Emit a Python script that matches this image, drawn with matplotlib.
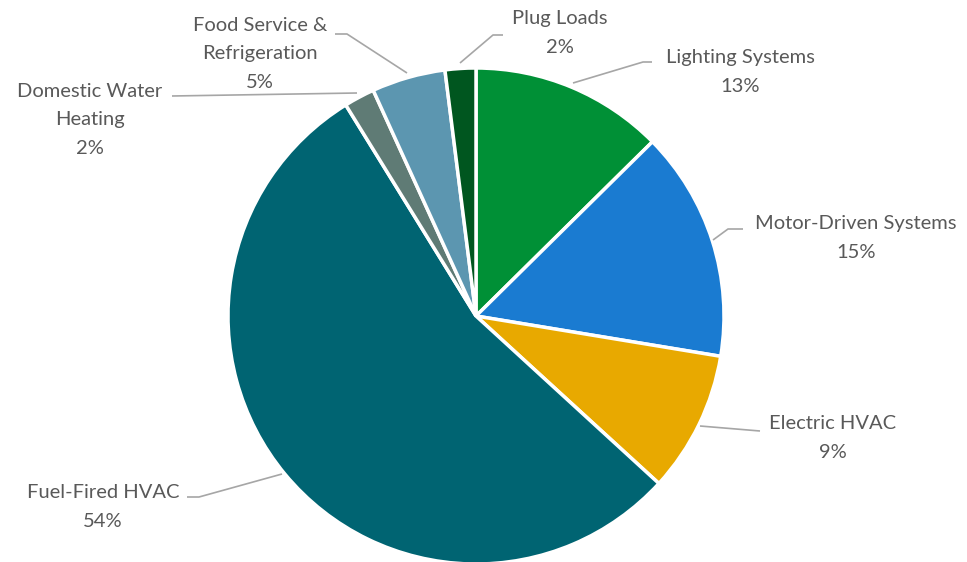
import matplotlib
matplotlib.use('Agg')
import matplotlib.pyplot as plt

# data (share of energy use, %)
categories = ['Lighting Systems', 'Motor-Driven Systems', 'Electric HVAC',
              'Fuel-Fired HVAC', 'Domestic Water\nHeating',
              'Food Service &\nRefrigeration', 'Plug Loads']
values = [12.6, 15.0, 9.2, 54.4, 2.0, 4.8, 2.0]
pct_labels = ['13%', '15%', '9%', '54%', '2%', '5%', '2%']
colors = ['#009036', '#1a7bd1', '#e8a900', '#006472', '#5f7b75', '#5c96b0', '#00561f']

# layout in pixels (x from left, y from top)
W, H = 967, 562
center = (476, 316)
radius = 248
label_pos = [(740, 72), (856, 238), (833, 438), (103, 507), (90, 120), (260, 54), (560, 33)]
leaders = [
    [(573, 83), (643, 62), (652, 62)],
    [(713, 240), (728, 229), (743, 229)],
    [(700, 426), (760, 431)],
    [(282, 474), (199, 497), (187, 497)],
    [(357, 93), (172, 96)],
    [(407, 73), (347, 34), (335, 34)],
    [(460, 63), (493, 35), (503, 35)],
]

def fy(py):
    return H - py

fig = plt.figure(figsize=(W / 100, H / 100), dpi=100)
ax = fig.add_axes([0, 0, 1, 1])

ax.pie(values, colors=colors, startangle=90, counterclock=False,
       center=(center[0], fy(center[1])), radius=radius,
       wedgeprops=dict(edgecolor='white', linewidth=2.5))

for pts in leaders:
    xs = [p[0] for p in pts]
    ys = [fy(p[1]) for p in pts]
    ax.plot(xs, ys, color='#a6a6a6', linewidth=1.2, solid_capstyle='butt')

for name, pct, (x, y) in zip(categories, pct_labels, label_pos):
    ax.text(x, fy(y), name + '\n' + pct, ha='center', va='center',
            fontsize=14.5, family='Lato', color='#595959', linespacing=1.8)

ax.set_xlim(0, W)
ax.set_ylim(0, H)
ax.set_aspect('equal')
ax.axis('off')

fig.savefig('out.png', dpi=100, facecolor='white')
